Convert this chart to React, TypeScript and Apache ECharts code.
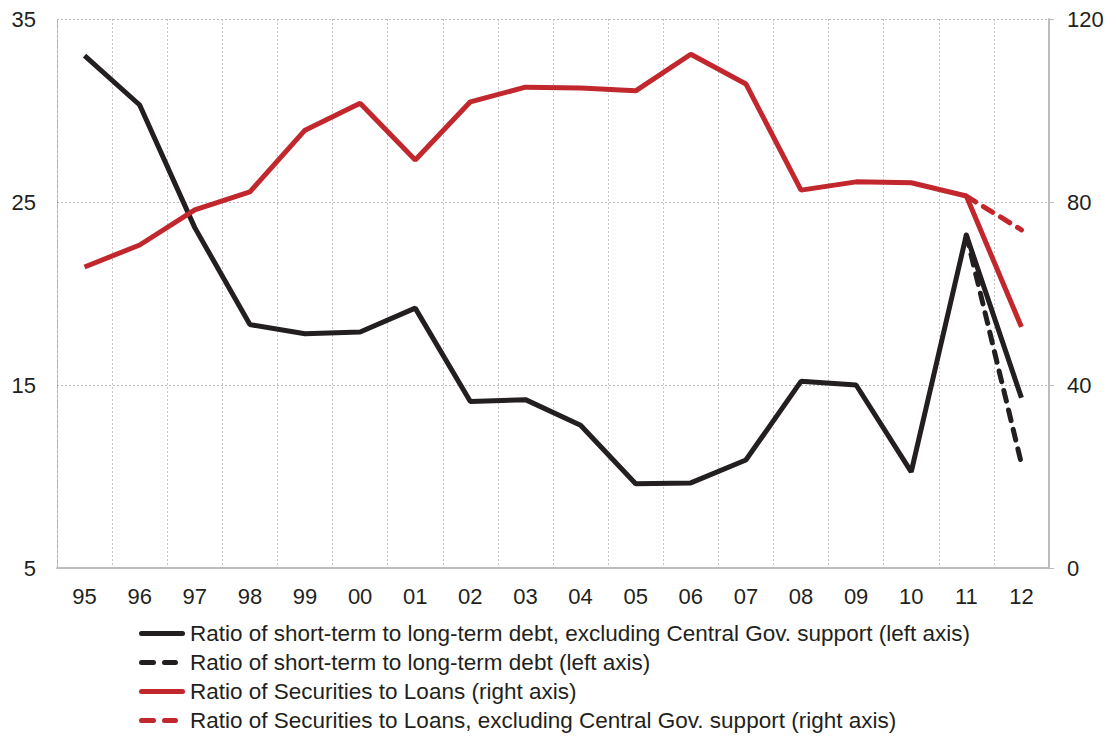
import React, { useEffect, useRef } from "react";
import * as echarts from "echarts";

const years = ["95", "96", "97", "98", "99", "00", "01", "02", "03", "04", "05", "06", "07", "08", "09", "10", "11", "12"];
const debtExclSupport = [33.0, 30.3, 23.6, 18.3, 17.8, 17.9, 19.2, 14.1, 14.2, 12.8, 9.6, 9.65, 10.9, 15.2, 15.0, 10.25, 23.2, 14.3];
const debtAll = [null, null, null, null, null, null, null, null, null, null, null, null, null, null, null, null, 23.2, 10.7];
const secToLoans = [65.8, 70.6, 78.3, 82.2, 95.7, 101.6, 89.2, 101.9, 105.1, 104.9, 104.3, 112.3, 105.8, 82.6, 84.4, 84.2, 81.3, 52.7];
const secToLoansExcl = [null, null, null, null, null, null, null, null, null, null, null, null, null, null, null, null, 81.3, 73.9];

const leftTicks = { min: 5, max: 35, interval: 10 };
const rightTicks = { min: 0, max: 120, interval: 40 };

const names = [
  "Ratio of short-term to long-term debt, excluding Central Gov. support (left axis)",
  "Ratio of short-term to long-term debt (left axis)",
  "Ratio of Securities to Loans (right axis)",
  "Ratio of Securities to Loans, excluding Central Gov. support (right axis)",
];

const BLACK = "#231f20";
const RED = "#c1272d";
const FONT = "'Liberation Sans', Arial, Helvetica, sans-serif";

const SOLID_ICON = "path://M2.5,0 L43.5,0 A2.5,2.5 0 0 1 43.5,5 L2.5,5 A2.5,2.5 0 0 1 2.5,0 Z";
const DASH_ICON =
  "path://M2.5,0 L14.5,0 A2.5,2.5 0 0 1 14.5,5 L2.5,5 A2.5,2.5 0 0 1 2.5,0 Z M25.5,0 L36.5,0 A2.5,2.5 0 0 1 36.5,5 L25.5,5 A2.5,2.5 0 0 1 25.5,0 Z M45.95,2.45 L46,2.45 L46,2.5 Z M45.95,0 L46,0 L46,0.05 Z M45.95,4.95 L46,4.95 L46,5 Z";

export default function App() {
  const ref = useRef<HTMLDivElement>(null);
  useEffect(() => {
    document.body.style.margin = "0";
    if (!ref.current) return;
    const chart = echarts.init(ref.current, null, { renderer: "svg" });
    const lineBase = { type: "line" as const, symbol: "none", showSymbol: false, connectNulls: false };
    chart.setOption({
      animation: false,
      textStyle: { fontFamily: FONT },
      grid: { left: 57, right: 67, top: 19, bottom: 170 },
      legend: {
        orient: "vertical",
        left: 134,
        top: 617,
        height: 200,
        itemWidth: 46,
        itemHeight: 5,
        itemGap: 6,
        textStyle: { fontSize: 22.5, color: BLACK, fontFamily: FONT },
        data: [
          { name: names[0], icon: SOLID_ICON },
          { name: names[1], icon: DASH_ICON },
          { name: names[2], icon: SOLID_ICON },
          { name: names[3], icon: DASH_ICON },
        ],
      },
      xAxis: {
        type: "category",
        data: years,
        boundaryGap: true,
        axisLine: { show: true, lineStyle: { color: "#bdbdbd", width: 2 } },
        axisTick: { show: false },
        axisLabel: { fontSize: 22, color: BLACK, margin: 17, interval: 0 },
        splitLine: { show: true, interval: 0, lineStyle: { color: "#c4c4c4", type: [2, 2], width: 1 } },
      },
      yAxis: [
        {
          type: "value",
          position: "left",
          ...leftTicks,
          axisLine: { show: true, lineStyle: { color: "#b0b0b0", type: [3, 2], width: 1 } },
          axisTick: { show: false },
          axisLabel: { fontSize: 22, color: BLACK, margin: 21 },
          splitLine: { show: true, lineStyle: { color: "#b8b8b8", type: [2, 2], width: 1 } },
        },
        {
          type: "value",
          position: "right",
          ...rightTicks,
          axisLine: { show: true, lineStyle: { color: "#bdbdbd", width: 2 } },
          axisTick: { show: true, length: 5, lineStyle: { color: "#bdbdbd", width: 1 } },
          axisLabel: { fontSize: 22, color: BLACK, margin: 18 },
          splitLine: { show: false },
        },
      ],
      series: [
        {
          ...lineBase,
          name: names[1],
          yAxisIndex: 0,
          data: debtAll,
          z: 2,
          lineStyle: { color: BLACK, width: 5, type: [11, 9], cap: "round" },
          itemStyle: { color: BLACK },
        },
        {
          ...lineBase,
          name: names[0],
          yAxisIndex: 0,
          data: debtExclSupport,
          z: 3,
          lineStyle: { color: BLACK, width: 5 },
          itemStyle: { color: BLACK },
        },
        {
          ...lineBase,
          name: names[3],
          yAxisIndex: 1,
          data: secToLoansExcl,
          z: 2,
          lineStyle: { color: RED, width: 5, type: [11, 9], cap: "round" },
          itemStyle: { color: RED },
        },
        {
          ...lineBase,
          name: names[2],
          yAxisIndex: 1,
          data: secToLoans,
          z: 3,
          lineStyle: { color: RED, width: 5 },
          itemStyle: { color: RED },
        },
      ],
    });
    return () => chart.dispose();
  }, []);
  return <div ref={ref} style={{ width: 1116, height: 738 }} />;
}
